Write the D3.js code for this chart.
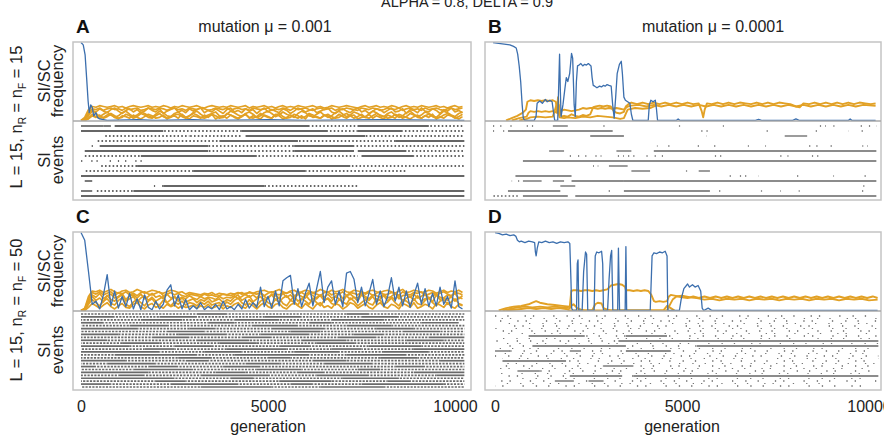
<!DOCTYPE html>
<html><head><meta charset="utf-8">
<script src="https://cdn.jsdelivr.net/npm/d3@7"></script>
<style>body{margin:0;background:#fff}svg{display:block;font-family:"Liberation Sans",Arial,sans-serif}</style>
</head><body>
<script>
// ---------------- DATA ----------------
const xTicks = [0, 5000, 10000];
const titles = ["mutation μ = 0.001", "mutation μ = 0.0001"];
const rowNF = ["15", "50"];
const STEP = 100; // generations between samples of the uniform series

// Panel A (uniform series: one value per 100 generations, frequency in %)
const blueA = [[0,100],[60,97],[110,84],[150,55],[190,25],[220,10],[260,20],[300,17],[340,6],[400,10],[440,4],[500,2],[600,1],[700,0],[1500,1],[2000,0],[3000,1],[3500,0],[5000,1],[6000,0],[8000,1],[10250,0]];
const oA1 = [0,4,14,18,17,19,18,17,18,19,17,18,16,18,19,18,17,18,19,17,18,17,19,18,16,18,17,19,18,17,18,19,17,16,18,19,18,17,18,17,19,18,17,18,19,16,18,17,18,19,17,18,16,18,19,17,18,17,19,18,17,18,19,17,18,16,17,19,18,17,18,19,18,17,16,18,19,17,18,19,17,18,17,19,18,16,18,19,17,18,17,19,18,17,18,19,17,18,16,18,19,17,18];
const oA2 = [0,2,10,15,14,16,13,15,16,14,15,13,16,14,15,16,13,14,16,15,14,16,15,13,15,16,14,15,13,16,15,14,16,15,13,14,16,15,14,16,13,15,16,14,15,13,16,15,14,15,16,13,15,14,16,15,13,16,14,15,16,14,13,15,16,14,15,16,13,15,14,16,15,14,13,16,15,14,16,15,13,14,16,15,14,16,13,15,16,14,15,13,16,14,15,16,14,13,15,16,14,15,16];
const oA3 = [0,1,6,12,9,5,8,11,7,4,6,10,12,8,5,7,11,9,6,4,8,12,10,6,5,9,11,7,4,6,10,12,8,5,7,9,11,6,4,8,12,10,7,5,9,11,8,4,6,10,12,9,5,7,11,8,6,4,9,12,10,6,5,8,11,7,4,6,10,12,8,5,7,11,9,6,4,8,12,10,6,5,9,11,7,4,6,10,12,8,5,7,11,9,6,4,8,12,10,7,5,9,11];
const oA4 = [0,0,3,8,5,3,4,7,9,6,3,4,8,6,3,5,9,7,4,3,6,9,5,3,4,7,8,5,3,6,9,7,4,3,5,8,6,3,4,9,7,5,3,6,8,4,3,5,9,6,4,3,7,9,5,3,4,8,6,3,5,9,7,4,3,6,8,5,3,4,7,9,6,3,5,8,4,3,6,9,7,5,3,4,8,6,3,5,9,7,4,3,6,8,5,3,4,7,9,6,3,5,8];
const oA5 = [0,1,8,13,11,15,12,10,14,16,12,9,13,15,11,14,10,12,16,13,11,15,9,12,14,16,11,13,10,15,12,14,16,10,13,11,15,12,9,14,16,11,13,10,15,12,14,9,13,16,11,14,12,10,15,13,9,12,16,14,11,13,15,10,12,14,16,11,9,13,15,12,10,14,16,11,13,9,12,15,14,10,13,16,11,12,15,9,14,13,10,16,12,11,15,13,9,14,12,16,11,13,10];
const oA6 = [0,0,2,6,4,7,3,5,8,4,2,6,5,3,7,4,2,5,8,6,3,4,7,2,5,6,3,8,4,2,6,5,3,7,4,8,2,5,6,3,7,4,2,5,8,3,6,4,2,7,5,3,8,6,2,4,7,5,3,6,2,8,4,5,3,7,6,2,4,8,5,3,6,7,2,4,5,8,3,6,4,2,7,5,3,8,6,4,2,5,7,3,6,4,8,2,5,3,7,6,4,2,5];

// Panel C
const blueC = [100,90,50,8,12,2,20,46,6,25,3,18,5,22,2,15,1,20,4,1,12,2,8,26,33,6,20,2,14,1,6,2,10,1,5,2,8,1,12,2,5,1,8,2,14,3,10,4,30,5,18,3,25,6,38,42,45,8,28,5,22,35,6,28,50,10,30,38,8,25,5,48,50,40,10,30,6,22,40,8,25,5,18,42,12,30,6,25,4,20,35,8,28,5,22,6,30,8,18,3,38,5,2];
const oC1 = [0,3,18,25,24,26,23,25,27,24,22,25,26,23,24,27,25,22,24,26,25,23,22,24,26,25,23,24,21,23,22,21,20,22,21,23,20,22,21,20,22,21,23,21,22,23,22,24,25,26,24,23,25,27,24,22,25,26,23,24,26,25,23,24,27,25,23,26,24,25,27,24,23,26,25,24,22,25,26,24,23,25,26,24,22,25,27,23,24,26,25,23,24,26,25,22,24,26,23,25,24,26,23];
const oC2 = [0,2,12,20,17,22,15,19,21,16,18,22,14,19,20,16,21,15,18,22,17,19,15,21,16,18,14,17,15,19,16,14,18,15,17,16,14,18,15,17,16,19,15,18,21,17,20,16,22,18,15,21,19,16,22,17,20,15,21,18,16,22,19,15,20,17,21,16,18,22,15,19,21,17,16,22,18,15,20,19,17,21,16,18,22,15,19,20,17,21,16,18,22,15,19,21,17,16,20,18,22,15,19];
const oC3 = [0,0,8,14,10,6,12,15,9,7,13,16,8,5,11,14,10,6,12,15,9,7,13,10,6,11,8,12,7,10,9,6,11,8,12,7,9,10,6,11,8,13,16,10,7,14,9,6,12,15,10,8,14,16,9,6,13,11,7,15,12,8,16,10,6,13,15,9,7,14,11,8,16,12,6,10,14,9,7,15,13,8,11,16,10,6,14,12,8,15,9,7,13,16,10,6,12,14,8,11,15,9,7];
const oC4 = [0,0,4,9,6,3,7,10,5,2,6,9,4,3,8,10,5,2,7,9,4,6,3,8,5,7,3,6,4,5,7,3,6,4,8,3,5,7,2,6,4,8,10,5,3,9,6,2,7,10,5,3,8,9,4,2,7,10,6,3,9,5,2,8,10,4,6,3,9,7,2,5,10,8,3,6,9,4,2,7,10,5,3,8,6,2,9,7,4,10,3,5,8,6,2,9,7,4,10,5,3,8,6];
const oC5 = [0,1,10,18,13,16,11,19,14,12,17,20,12,15,18,11,16,19,13,17,12,15,18,10,14,17,12,16,11,13,15,10,14,12,16,11,13,15,10,14,12,17,20,13,16,19,11,15,18,12,17,20,14,11,16,19,13,18,12,15,20,14,11,17,19,13,16,12,18,15,11,19,14,17,12,20,16,13,18,11,15,19,12,17,14,20,11,16,18,13,19,12,15,17,11,20,14,16,13,18,12,17,15];
const oC6 = [0,2,15,23,21,24,20,22,24,19,23,21,24,20,22,19,23,24,21,20,22,24,19,21,23,20,22,19,18,21,20,19,18,21,19,20,18,19,21,20,19,21,22,23,20,24,22,21,23,19,22,24,21,20,23,22,24,19,21,23,20,24,22,21,19,23,24,20,22,21,24,19,23,22,20,24,21,23,19,22,24,20,21,23,22,19,24,21,20,23,22,24,19,21,23,20,22,24,21,19,23,22,20];

// Panel B ([generation, %])
const blueB = [[0,100],[150,99],[300,98],[450,97],[550,95],[620,93],[660,85],[700,70],[740,50],[780,20],[810,3],[850,0],[1100,0],[1150,5],[1180,22],[1250,25],[1320,22],[1400,27],[1450,24],[1520,26],[1580,24],[1620,10],[1650,0],[1730,0],[1760,50],[1780,85],[1800,40],[1820,5],[1870,20],[1920,40],[1960,55],[2000,50],[2050,60],[2100,86],[2130,80],[2170,20],[2200,5],[2230,50],[2260,70],[2300,71],[2350,73],[2400,70],[2450,72],[2500,71],[2550,73],[2620,70],[2650,55],[2680,45],[2720,44],[2780,42],[2850,44],[2900,43],[2950,45],[3000,44],[3050,46],[3100,45],[3160,44],[3200,20],[3240,3],[3280,30],[3320,60],[3380,72],[3430,76],[3460,60],[3500,30],[3540,26],[3600,24],[3660,22],[3700,8],[3740,0],[4150,0],[4180,20],[4220,26],[4280,24],[4340,26],[4370,15],[4400,0],[4900,0],[4950,2],[5000,0],[7000,0],[7100,1.5],[7200,0],[8000,0],[8100,2],[8200,0],[9500,0],[9550,2],[9600,0],[10230,0]];
const oB1 = [[350,0],[500,3],[650,6],[800,10],[880,14],[920,24],[1000,26],[1100,25],[1200,26],[1300,25],[1400,26],[1500,25],[1600,26],[1680,24],[1720,10],[1760,20],[1800,8],[1850,5],[1900,6],[2000,5],[2100,8],[2200,6],[2300,5],[2400,7],[2500,6],[2600,8],[2680,17],[2750,18],[2850,19],[2950,18],[3050,19],[3150,18],[3230,12],[3300,10],[3400,9],[3500,11],[3550,18],[3620,21],[3700,23],[3850,21],[4000,23],[4150,21],[4300,23],[4450,21],[4600,23],[4750,21],[4900,23],[5050,21],[5200,23],[5350,21],[5500,22],[5580,12],[5620,4],[5660,14],[5720,22],[5850,21],[6000,23],[6150,21],[6300,23],[6450,21],[6600,23],[6750,22],[6900,21],[7050,23],[7200,21],[7350,23],[7500,21],[7650,23],[7800,22],[7950,21],[8100,18],[8200,17],[8300,22],[8450,21],[8600,23],[8750,21],[8900,23],[9050,21],[9200,23],[9350,21],[9500,23],[9650,21],[9800,23],[9950,22],[10100,21],[10230,22]];
const oB2 = [[500,0],[700,3],[900,5],[950,10],[1000,12],[1100,11],[1200,12],[1300,11],[1400,12],[1500,11],[1600,12],[1700,10],[1740,30],[1770,8],[1800,12],[1900,14],[2000,13],[2100,12],[2200,13],[2300,14],[2400,16],[2500,15],[2600,16],[2700,16],[2800,15],[2900,16],[3000,15],[3100,16],[3200,15],[3300,16],[3400,15],[3500,14],[3600,18],[3700,19],[3900,20],[4100,18],[4300,20],[4500,18],[4700,20],[4900,18],[5100,20],[5300,18],[5500,20],[5700,18],[5900,20],[6100,18],[6300,20],[6500,18],[6700,20],[6900,18],[7100,20],[7300,18],[7500,20],[7700,18],[7900,20],[8100,18],[8300,20],[8500,18],[8700,20],[8900,18],[9100,20],[9300,18],[9500,20],[9700,18],[9900,20],[10230,19]];
const oB3 = [[700,0],[900,2],[1000,4],[1200,5],[1400,4],[1600,5],[1700,20],[1780,4],[1900,3],[2000,4],[2200,3],[2400,5],[2600,4],[2800,6],[3000,5],[3200,4],[3300,3],[3400,2],[3500,3],[3600,14],[3800,16],[4000,15],[4200,16],[4400,20]];

// Panel D ([generation, %])
const blueD = [[0,100],[100,99],[200,97],[300,98],[400,96],[500,97],[560,95],[600,90],[650,88],[700,89],[800,87],[900,89],[1000,88],[1060,87],[1080,75],[1100,70],[1130,80],[1170,88],[1250,87],[1350,89],[1450,87],[1550,88],[1650,86],[1750,88],[1850,87],[1950,88],[2000,86],[2030,40],[2050,3],[2080,0],[2180,0],[2200,60],[2220,65],[2240,0],[2330,0],[2370,50],[2420,75],[2450,72],[2480,0],[2650,0],[2680,70],[2720,75],[2780,74],[2850,76],[2880,60],[2900,0],[3010,0],[3050,40],[3090,70],[3120,77],[3150,0],[3280,0],[3300,80],[3330,0],[3480,0],[3500,82],[3520,0],[4150,0],[4200,70],[4250,74],[4320,73],[4400,75],[4480,74],[4550,76],[4600,70],[4620,0],[4930,0],[4980,15],[5050,28],[5150,34],[5200,30],[5280,33],[5350,30],[5430,32],[5500,25],[5540,3],[5580,0],[5700,3],[5800,0],[6200,0],[10230,0]];
const oD1 = [[100,0],[300,3],[500,5],[700,6],[900,8],[1000,10],[1100,12],[1200,10],[1400,8],[1600,7],[1800,6],[2000,5],[2040,25],[2100,26],[2200,26],[2300,25],[2400,26],[2500,26],[2600,25],[2700,26],[2800,25],[2900,26],[3000,27],[3100,32],[3200,33],[3300,34],[3400,33],[3480,30],[3500,26],[3600,26],[3700,25],[3800,26],[3900,25],[4000,26],[4100,25],[4180,20],[4250,12],[4300,11],[4400,12],[4500,11],[4600,12],[4650,18],[4700,20],[4800,19],[4900,18],[5000,17],[5150,16],[5300,18],[5450,16],[5600,18],[5750,16],[5900,18],[6050,16],[6200,18],[6350,16],[6500,18],[6650,16],[6800,18],[6950,16],[7100,18],[7250,16],[7400,18],[7550,16],[7700,18],[7850,16],[8000,18],[8150,16],[8300,18],[8450,16],[8600,18],[8750,16],[8900,18],[9050,16],[9200,18],[9350,16],[9500,18],[9650,16],[9800,18],[9950,16],[10100,18],[10230,16]];
const oD2 = [[200,0],[400,2],[600,4],[800,5],[1000,4],[1200,5],[1400,4],[1600,5],[1800,4],[2000,3],[2040,6],[2100,8],[2200,3],[2300,1],[2400,0],[2600,0],[2680,8],[2750,10],[2850,9],[2900,3],[3000,1],[3100,0],[4600,0],[4650,5],[4750,14],[4850,18],[5000,19],[5200,17],[5400,16],[5600,14],[5800,15],[6000,13],[6200,15],[6400,14],[6600,15],[6800,13],[7000,15],[7200,14],[7400,15],[7600,13],[7800,15],[8000,14],[8200,15],[8400,13],[8600,15],[8800,14],[9000,15],[9200,13],[9400,15],[9600,14],[9800,15],[10000,13],[10230,14]];
const oD3 = [[300,0],[500,1],[700,2],[900,3],[1100,2],[1300,3],[1500,2],[1700,3],[1900,2],[2000,0],[4500,0],[4600,6],[4700,3],[4800,0]];

// SI events: one string per locus row; tokens = type + bin range (bins of 100 generations)
// L = persisting SI (solid), D = frequent short events, S = sparse short events
const evA = [
 "L0-5 L6-7 L9-60 D61-73 L74-92 D93-102",
 "L0-21 D22-42 L43-65 D66-73 L74-85 D86-102",
 "D6-28 D29-37 D38-42 L44-75 D76-102",
 "D4-20 D21-36 L37-57 D58-83 L84-102",
 "S2-3 L5-33 D34-56 L57-72 D73-102",
 "L1-33 D34-56 L57-72 L74-86 D87-102",
 "D1-15 L16-46 D47-73 L75-88 D89-102",
 "S0-18",
 "D5-14 L15-71 D72-102",
 "D1-29 L30-59 D60-86",
 "L0-102",
 "L1-2",
 "S18-21 L22-48 D49-73",
 "L0-2 D4-13 L14-102",
 "L0-102"];
const evB = [
 "S0-5 S8-12 L16-19 S29-30 S48-50 S53 S61 S69 S87-88 S91 S95 S98-102",
 "S0-2 L4-31 S44 S54-58 S62 S73 S79 S86-87 S89 S95 S98 S100",
 "L26-34 S57 S59 S65 L78-83 S87 S91",
 "S31",
 "S23 S25 S43 S46-48 S54-55 S58-60 S66-68 S72 S78 S83-87 S90 S94 S98 S100",
 "S12 L15-18 S27 L33-36 L43-102",
 "S20-28 S31-34 S36-45 S57-62 S76-78 S83-86 S96",
 "L8-102",
 "S24 S26 S28 L31-35",
 "L37-41 S45 S51-53 L55-57",
 "L6-20 S51 S62-70 S75 S81 S91 S99",
 "S5-6 L8-12 L16-18 L21-34 L35-102",
 "L18-21 S99 S101",
 "S3 L4-17 S30-31 L35-57 S60 S70-71 S76 S80-81 S98",
 "D0-6 L8-19 S19 L22-102"];
const evC = [
 "D0-30 L31-38 D39-70 L71-76 D77-102",
 "L0-8 D9-20 L21-30 D31-48 L49-58 D59-74 L75-84 D85-102",
 "D0-15 L16-26 D27-40 L41-52 D53-66 L67-80 D81-102",
 "L0-5 D6-33 L34-40 D41-60 L61-66 D67-90 L91-100",
 "D0-12 L13-22 D23-45 L46-57 D58-70 L71-82 D83-102",
 "L0-14 D15-28 L29-35 D36-50 L51-64 D65-78 L79-88 D89-102",
 "D0-22 L23-32 D33-55 L56-63 D64-85 L86-95 D96-102",
 "L0-9 D10-25 L26-38 D39-47 L48-60 D61-72 L73-80 D81-102",
 "D0-18 L19-28 D29-42 L43-50 D51-68 L69-78 D79-92 L93-102",
 "L0-6 D7-30 L31-44 D45-58 L59-70 D71-86 L87-96 D97-102",
 "D0-10 L11-20 D21-36 L37-46 D47-62 L63-72 D73-102",
 "L0-12 D13-24 L25-34 D35-52 L53-60 D61-76 L77-90 D91-102",
 "D0-16 L17-24 D25-38 L39-54 D55-66 L67-74 D75-88 L89-102",
 "L0-20 D21-32 L33-42 D43-56 L57-68 D69-80 L81-92 D93-102",
 "D0-8 L9-30 D31-40 L41-60 D61-70 L71-86 D87-102",
 "D0-25 L26-34 D35-49 L50-55 D56-79 L80-89 D90-102",
 "L0-11 D12-27 L28-33 D34-61 L62-70 D71-95 L96-102",
 "D0-6 L7-19 D20-43 L44-52 D53-64 L65-77 D78-102",
 "L0-3 D4-17 L18-25 D26-37 L38-47 D48-83 L84-91 D92-102",
 "D0-13 L14-29 D30-46 L47-58 D59-73 L74-79 D80-102",
 "L0-17 D18-35 L36-43 D44-57 L58-64 D65-88 L89-102",
 "D0-9 L10-16 D17-31 L32-49 D50-62 L63-76 D77-94 L95-102",
 "L0-24 D25-39 L40-45 D46-69 L70-84 D85-102",
 "D0-19 L20-27 D28-52 L53-66 D67-81 L82-87 D88-102",
 "L0-7 D8-23 L24-41 D42-55 L56-61 D62-74 L75-96 D97-102",
 "D0-31 L32-50 D51-63 L64-80 D81-102"];
const evD = [
 "S0-102",
 "S0-102",
 "S2-100",
 "S0-102",
 "L9-23 S24-34 L35-45 S46-102",
 "S0-32 L33-102",
 "S0-9 L10-34 S35-53 L54-102",
 "L0-3 S4-19 L20-22 S23-34 L35-46 S47-102",
 "S0-102",
 "L2-18 S19-102",
 "S0-28 L29-36 S37-102",
 "L6-11 S12-102",
 "S0-19 L20-33 S34-36 L37-102",
 "S0-15 L16-20 S21-24 L25-28 S29-102",
 "S0-102"];
// extra scattered short events of panel D, between the locus rows above
const evDdots = [
 "S0-60 S64-102", "S3-102", "S0-45 S50-102", "S0-102", "S1-80 S85-102", "S0-102", "S0-30 S34-102",
 "S0-102", "S2-70 S73-102", "S0-102", "S0-55 S58-100", "S0-102", "S4-102", "S0-90"];

// ---------------- DRAW ----------------
const W = 884, H = 440;
const BLUE = "#3c6fae", ORANGE = "#e2a125";
const svg = d3.select("body").append("svg").attr("width", W).attr("height", H);

const toPairs = arr => arr.map((v, i) => [i * STEP, v]);

const DASH = {
  D: ["1.6,2.2", 3.8],
  C: ["2.2,1.2", 3.4],
  S: ["1.2,6,1.2,9,1.2,4,1.2,12,1.2,7", 44],
  T: ["1.3,11,1.3,16,1.3,7,1.3,19,1.3,12", 71.5]
};

const panels = [
  {letter:"A", x0:73, x1:471, y0:42, ym:121, y1:200, g0:81, g1:455, title:titles[0], tx:265,
   blue: blueA, oranges:[oA1,oA2,oA5,oA3,oA4,oA6].map(toPairs), ow:1.7,
   rows:[{ev:evA, y:126, dy:5, color:"#333", w:1.3, dense:"D", sparse:"S"}]},
  {letter:"B", x0:485, x1:881, y0:42, ym:121, y1:200, g0:493, g1:867, title:titles[1], tx:713,
   blue: blueB, oranges:[oB3,oB2,oB1], ow:1.9,
   rows:[{ev:evB, y:126, dy:5, color:"#666", w:1.3, dense:"D", sparse:"S"}]},
  {letter:"C", x0:73, x1:471, y0:232, ym:311, y1:390, g0:81, g1:455, title:null,
   blue: toPairs(blueC), oranges:[oC1,oC6,oC2,oC5,oC3,oC4].map(toPairs), ow:1.7,
   rows:[{ev:evC, y:314, dy:2.92, color:"#6a6a6a", w:1.7, dense:"C", sparse:"S"}]},
  {letter:"D", x0:485, x1:881, y0:232, ym:311, y1:390, g0:495, g1:869, title:null,
   blue: blueD, oranges:[oD3,oD2,oD1], ow:1.9,
   rows:[{ev:evD, y:316, dy:5, color:"#666", w:1.3, dense:"D", sparse:"T"},
         {ev:evDdots, y:318.5, dy:5, color:"#777", w:1.2, dense:"D", sparse:"T"}]}
];

panels.forEach((p, pi) => {
  const x = d3.scaleLinear().domain([0, 10000]).range([p.g0, p.g1]);
  const y = d3.scaleLinear().domain([0, 100]).range([p.ym - 0.5, p.y0 + 0.5]);
  const g = svg.append("g");
  const clipId = "clip" + pi;
  svg.append("clipPath").attr("id", clipId).append("rect")
    .attr("x", p.x0).attr("y", p.y0).attr("width", p.x1 - p.x0).attr("height", p.ym - p.y0);

  const line = d3.line().x(d => x(d[0])).y(d => y(d[1]));
  const lg = g.append("g").attr("clip-path", `url(#${clipId})`);
  p.oranges.forEach(s => lg.append("path").attr("d", line(s)).attr("fill", "none")
    .attr("stroke", ORANGE).attr("stroke-width", p.ow).attr("stroke-linejoin", "round"));
  lg.append("path").attr("d", line(p.blue)).attr("fill", "none")
    .attr("stroke", BLUE).attr("stroke-width", 1.3).attr("stroke-linejoin", "round");

  // events
  const eg = g.append("g");
  p.rows.forEach((set, si) => {
    set.ev.forEach((row, k) => {
      const yy = set.y + k * set.dy;
      row.split(" ").filter(Boolean).forEach(tok => {
        const t = tok[0];
        const parts = tok.slice(1).split("-").map(Number);
        const a = parts[0], b = parts.length > 1 ? parts[1] : parts[0];
        const ga = a * STEP, gb = Math.min((b + 1) * STEP, 10250);
        const el = eg.append("line").attr("x1", x(ga)).attr("x2", x(gb)).attr("y1", yy).attr("y2", yy)
          .attr("stroke", set.color).attr("stroke-width", set.w);
        const key = t === "D" ? set.dense : t === "S" ? set.sparse : t;
        if (DASH[key]) el.attr("stroke-dasharray", DASH[key][0])
          .attr("stroke-dashoffset", ((k * 7.3 + si * 23 + a * 1.7) % DASH[key][1]).toFixed(2));
      });
    });
  });

  // frame
  g.append("rect").attr("x", p.x0).attr("y", p.y0).attr("width", p.x1 - p.x0).attr("height", p.y1 - p.y0)
    .attr("fill", "none").attr("stroke", "#c4c4c4").attr("stroke-width", 1.5);
  g.append("line").attr("x1", p.x0).attr("x2", p.x1).attr("y1", p.ym).attr("y2", p.ym)
    .attr("stroke", "#a8a8a8").attr("stroke-width", 1.5);

  // letter and title
  svg.append("text").attr("x", p.x0 + 3).attr("y", p.y0 - 9).attr("font-size", 19).attr("font-weight", "bold")
    .attr("fill", "#111").text(p.letter);
  if (p.title) svg.append("text").attr("x", p.tx).attr("y", p.y0 - 10).attr("text-anchor", "middle")
    .attr("font-size", 16).attr("fill", "#222").text(p.title);

  // x axis on bottom row
  if (pi >= 2) {
    const ax = svg.append("g").attr("transform", `translate(0,${p.y1 + 2})`)
      .call(d3.axisBottom(x).tickValues(xTicks).tickSize(0).tickPadding(9).tickFormat(d3.format("d")));
    ax.select(".domain").remove();
    ax.selectAll("text").attr("font-size", 16).attr("fill", "#222").attr("font-family", "Liberation Sans, Arial, sans-serif");
    svg.append("text").attr("x", x(5000)).attr("y", p.y1 + 42).attr("text-anchor", "middle")
      .attr("font-size", 16).attr("fill", "#222").text("generation");
  }
});

// row labels
function vtext(cx, cy, parts, size) {
  const t = svg.append("text").attr("transform", `translate(${cx},${cy}) rotate(-90)`)
    .attr("text-anchor", "middle").attr("font-size", size).attr("fill", "#222");
  parts.forEach(pt => {
    const ts = t.append("tspan").text(pt.t);
    if (pt.sub) ts.attr("font-size", size * 0.62).attr("dy", 4);
    if (pt.up) ts.attr("dy", -4);
  });
  return t;
}
[[0, 117, 81, 160], [1, 310, 271, 350]].forEach(([r, cy, fy, ey]) => {
  vtext(22, cy, [{t:"L = 15, n"}, {t:"R", sub:true}, {t:" = n", up:true}, {t:"F", sub:true}, {t:" = " + rowNF[r], up:true}], 16.5);
  vtext(50, fy, [{t:"SI/SC"}], 16.5);
  vtext(63, fy, [{t:"frequency"}], 16.5);
  vtext(50, ey, [{t:"SI"}], 16.5);
  vtext(63, ey, [{t:"events"}], 16.5);
});

svg.append("text").attr("x", 467).attr("y", 7).attr("text-anchor", "middle").attr("font-size", 14.5)
  .attr("fill", "#222").text("ALPHA = 0.8, DELTA = 0.9");
</script>
</body></html>
